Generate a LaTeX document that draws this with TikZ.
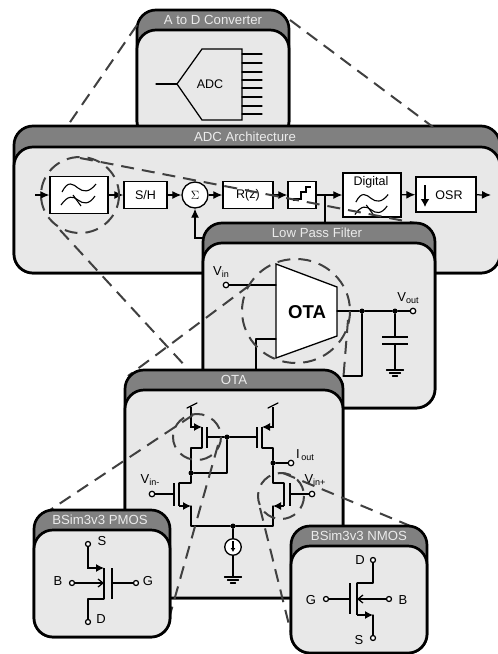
\documentclass[tikz,border=0pt]{standalone}
\usepackage{fontspec}
\setmainfont{Liberation Sans}
\usetikzlibrary{arrows.meta}
\definecolor{hdr}{HTML}{808080}
\definecolor{body}{HTML}{E8E8E8}
\definecolor{dsh}{HTML}{404040}
\newcommand{\lowtxt}[1]{\raisebox{-2.5pt}{\fontsize{9}{9}\selectfont #1}}
\newcommand{\panelbox}[8]{% name x1 y1 x2 y2 yi titlex title
  \draw[line width=2.7pt,fill=hdr,rounded corners=19pt] (#2,#3) rectangle (#4,#5);
  \draw[line width=2.7pt,fill=body,rounded corners=19pt] (#2,#6) rectangle (#4,#5);
  \node[paneltitle] (#1) at (#7,{(#3+#6)/2}) {#8};
}
\newcommand{\filtersym}[3]{% x y scale
  \begin{scope}[shift={(#1,#2)},scale=#3,line width=1.1pt]
    \draw (-17,-3) .. controls (-11,-15) and (-6,-11) .. (-1,-7) .. controls (4,-3) and (10,-2) .. (17,-11);
    \draw (-18,10) .. controls (-11,0) and (-6,1) .. (-1,5) .. controls (4,9) and (10,10) .. (16,1);
    \draw (-6,0) -- (2,11);
  \end{scope}
}
\newcommand{\gnd}[2]{%
  \draw[wire] (#1-8.5,#2) -- (#1+8.5,#2);
  \draw[wire] (#1-5.5,#2+3) -- (#1+5.5,#2+3);
  \draw[wire] (#1-2.5,#2+6) -- (#1+2.5,#2+6);
}
\tikzset{
  x=1pt,y=-1pt,
  paneltitle/.style={text=white!92!black,font=\fontsize{13.2}{14}\selectfont,inner sep=0pt},
  wire/.style={line width=1.25pt,line cap=round,line join=round},
  sig/.style={line width=1.25pt,-{Latex[length=9pt,width=8pt]}},
  blockbox/.style={draw,line width=1.3pt,fill=white,inner sep=0pt,font=\fontsize{12.5}{13}\selectfont},
  zoomline/.style={draw=dsh,line width=2pt,dash pattern=on 13pt off 8pt},
  term/.style={circle,draw,line width=1.25pt,fill=white,minimum size=5.5pt,inner sep=0pt},
  junction/.style={circle,fill=black,minimum size=5pt,inner sep=0pt},
  lab/.style={inner sep=0pt,font=\fontsize{13}{14}\selectfont},
  chan/.style={line width=1.6pt},
  mosarrow/.style={line width=1.25pt,-{Latex[length=8pt,width=8pt]}},
  openarrow/.style={line width=1.25pt,-{Straight Barb[length=5pt,width=8pt]}},
}
\begin{document}
\begin{tikzpicture}
\useasboundingbox (0,0) rectangle (498,654);
% ---- A to D
\panelbox{ttlad}{137}{10}{289}{140}{30}{213}{A to D Converter}
\node[inner sep=0pt,font=\fontsize{12.5}{13}\selectfont] (adc) at (210,84) {ADC};
\draw[line width=1.25pt] (177,84) -- (202,49) -- (242,49) -- (242,120) -- (202,120) -- cycle;
\draw[wire] (156,84) -- (177,84);
\foreach \y in {54,63,72,80,88,97,106,114} \draw[wire] (242,\y) -- (262,\y);
% ---- ADC Architecture
\panelbox{ttlarch}{14}{126}{500}{273}{147}{245}{ADC Architecture}
\draw[zoomline] (137,25) -- (66,128);
\draw[zoomline] (290,20) -- (433,127);
\node[blockbox,minimum width=58pt,minimum height=37pt] (lpf) at (79,195) {};
\node[blockbox,minimum width=43pt,minimum height=27pt] (sh) at (145.5,195) {S/H};
\node[circle,draw,line width=1.3pt,fill=white,minimum size=26pt,inner sep=0pt,font=\fontsize{12}{12}\selectfont] (sum) at (195,195) {$\Sigma$};
\node[blockbox,minimum width=50pt,minimum height=27pt] (rz) at (248,195) {R(z)};
\node[blockbox,minimum width=28pt,minimum height=27pt] (qz) at (302,195) {};
\node[blockbox,minimum width=58pt,minimum height=44pt] (dig) at (372,195) {};
\node[lab,font=\fontsize{12.5}{13}\selectfont] (digt) at (371,182) {Digital};
\node[blockbox,minimum width=60pt,minimum height=35pt] (osr) at (446,194.5) {};
\node[lab,font=\fontsize{12.5}{13}\selectfont] (osrt) at (449,195) {OSR};
\coordinate (in) at (35,195);
\coordinate (out) at (491,195);
\coordinate (fbk) at (325,195);
\coordinate (fb1) at (325,225);
\coordinate (fb2) at (195,238);
\coordinate (fb3) at (205,238);
\filtersym{79}{195}{1}
\filtersym{372}{205}{0.95}
\draw[line width=1.25pt] (294,201) -- (294,199) -- (301,199) -- (301,192) -- (306,192) -- (306,187) -- (311,187);
\draw[line width=1.8pt,-{Latex[length=8pt,width=9pt]}] (425,185) -- (425,207);
\draw[sig] (in) -- (lpf);
\draw[sig] (lpf) -- (sh);
\draw[sig] (sh) -- (sum);
\draw[sig] (sum) -- (rz);
\draw[sig] (rz) -- (qz);
\draw[sig] (qz) -- (dig);
\draw[sig] (dig) -- (osr);
\draw[sig] (osr) -- (out);
\draw[wire] (fbk) -- (fb1);
\draw[sig] (fb3) -- (fb2) -- (sum);
\draw[zoomline] (80,195) ellipse (39 and 38);
\draw[zoomline] (80,158) -- (415,223);
\draw[zoomline] (60,230) -- (187,368);
% ---- Low pass filter
\panelbox{ttllpf}{203}{223}{435}{408}{243}{317}{Low Pass Filter}
\draw[line width=1.3pt,fill=white] (276,264) -- (337,287) -- (337,336) -- (276,358) -- cycle;
\node[inner sep=0pt,font=\bfseries\fontsize{18.6}{19}\selectfont] (otat) at (307,312) {OTA};
\node[term] (vin) at (226,285) {};
\node[lab,font=\fontsize{13}{14}\selectfont] (vinl) at (221,272) {V\lowtxt{in}};
\node[term] (vout) at (413,311) {};
\node[lab] (voutl) at (408,298) {V\lowtxt{out}};
\node[junction] (j1) at (362,311) {};
\node[junction] (j2) at (395,311) {};
\coordinate (ota1) at (276,285);
\coordinate (ota2) at (276,339);
\coordinate (otao) at (337,311);
\draw[wire] (vin) -- (ota1);
\draw[wire] (ota2) -- (256,339) -- (256,372);
\draw[wire] (otao) -- (j1) -- (j2) -- (vout);
\draw[wire] (j1) -- (362,376) -- (343,376);
\draw[wire] (j2) -- (395,337);
\draw[line width=1.6pt] (382,337) -- (408,337);
\draw[line width=1.6pt] (382,344) -- (408,344);
\draw[wire] (395,344) -- (395,370);
\gnd{395}{370}
\draw[zoomline] (296,311) ellipse (54 and 52);
\draw[zoomline] (250,285) -- (128,376);
\draw[zoomline] (348,320) -- (342,395);
% ---- OTA panel
\panelbox{ttlota}{125}{370}{343}{598}{390}{234}{OTA}
\node[term] (vm) at (152,494) {};
\node[term] (vp) at (312,494) {};
\node[term] (iout) at (291,463) {};
\node[junction] (ja) at (191,473) {};
\node[junction] (jb) at (227,437) {};
\node[junction] (jc) at (273,463) {};
\node[junction] (jd) at (233,526) {};
\node[circle,draw,line width=1.3pt,fill=white,minimum size=16.5pt,inner sep=0pt] (isrc) at (233,547) {};
\node[lab] (vml) at (150,480) {V\lowtxt{in-}};
\node[lab] (vpl) at (315,480) {V\lowtxt{in+}};
\node[lab] (ioutl) at (305,455) {I\lowtxt{\,out}};
% left PMOS
\draw[wire] (187,408) -- (197,403);
\draw[mosarrow] (191,407) -- (191,427) -- (202,427);
\draw[chan] (202,427) -- (202,448);
\draw[wire] (202,448) -- (191,448) -- (ja);
\draw[chan] (207,427) -- (207,448);
\draw[wire] (207,437) -- (jb) -- (257,437);
\draw[chan] (257,427) -- (257,448);
\draw[wire] (jb) -- (227,473) -- (ja);
% right PMOS
\draw[wire] (268,408) -- (278,403);
\draw[mosarrow] (273,407) -- (273,427) -- (262,427);
\draw[chan] (262,427) -- (262,448);
\draw[wire] (262,448) -- (273,448) -- (jc);
\draw[wire] (jc) -- (iout);
% left NMOS
\draw[wire] (ja) -- (191,483) -- (179,483);
\draw[chan] (179,483) -- (179,506);
\draw[mosarrow] (179,506) -- (191,506);
\draw[chan] (174,483) -- (174,506);
\draw[wire] (vm) -- (174,494);
\draw[wire] (191,506) -- (191,526) -- (jd);
% right NMOS
\draw[wire] (jc) -- (273,483) -- (284,483);
\draw[chan] (284,483) -- (284,506);
\draw[mosarrow] (284,506) -- (273,506);
\draw[chan] (290,483) -- (290,506);
\draw[wire] (vp) -- (290,494);
\draw[wire] (273,506) -- (273,526) -- (jd);
% tail
\draw[wire] (jd) -- (isrc);
\draw[line width=1.25pt,-{Latex[length=4pt,width=5pt]}] (233,541) -- (233,552);
\draw[wire] (isrc) -- (233,577);
\gnd{233}{577}
% zoom rings
\draw[zoomline] (197,437) ellipse (24 and 23);
\draw[zoomline] (281,496) ellipse (23 and 23);
\draw[zoomline] (193,415) -- (38,518);
\draw[zoomline] (218,445) -- (168,622);
\draw[zoomline] (283,473) -- (420,530);
\draw[zoomline] (260,508) -- (294,645);
% ---- PMOS
\panelbox{ttlp}{34}{510}{170}{637}{530}{100}{BSim3v3 PMOS}
\node[term,minimum size=5pt] (ps) at (88,544) {};
\node[term,minimum size=5pt] (pd) at (88,622) {};
\node[term,minimum size=5pt] (pb) at (72,583) {};
\node[term,minimum size=5pt] (pg) at (136,583) {};
\node[lab] (psl) at (102,541) {S};
\node[lab] (pdl) at (101,619) {D};
\node[lab] (pbl) at (58,581) {B};
\node[lab] (pgl) at (148,581) {G};
\draw[mosarrow] (ps) -- (88,568) -- (104,568);
\draw[chan] (104,568) -- (104,599);
\draw[wire] (104,599) -- (88,599) -- (pd);
\draw[openarrow] (pb) -- (104,583);
\draw[chan] (112,568) -- (112,599);
\draw[wire] (112,583) -- (pg);
% ---- NMOS
\panelbox{ttln}{291}{526}{427}{653}{546}{359}{BSim3v3 NMOS}
\node[term,minimum size=5pt] (nd) at (373,560) {};
\node[term,minimum size=5pt] (ns) at (373,638) {};
\node[term,minimum size=5pt] (ng) at (326,599) {};
\node[term,minimum size=5pt] (nb) at (389,599) {};
\node[lab] (ndl) at (360,560) {D};
\node[lab] (nsl) at (359,640) {S};
\node[lab] (ngl) at (311,600) {G};
\node[lab] (nbl) at (403,600) {B};
\draw[wire] (nd) -- (373,583) -- (357,583);
\draw[chan] (357,583) -- (357,615);
\draw[mosarrow] (357,615) -- (373,615);
\draw[wire] (373,615) -- (ns);
\draw[chan] (350,583) -- (350,614);
\draw[wire] (ng) -- (350,599);
\draw[openarrow] (nb) -- (357,599);
\end{tikzpicture}
\end{document}
